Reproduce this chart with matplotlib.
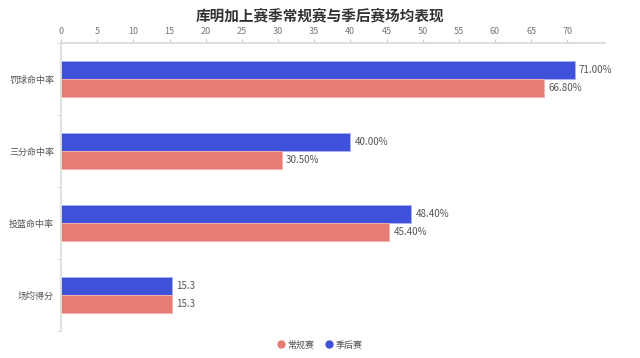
import matplotlib
matplotlib.use("Agg")
import matplotlib.pyplot as plt
import numpy as np
from matplotlib.lines import Line2D

plt.rcParams['font.family'] = ['Noto Sans CJK SC', 'DejaVu Sans']

categories = ['罚球命中率', '三分命中率', '投篮命中率', '场均得分']
regular = [66.8, 30.5, 45.4, 15.3]
playoff = [71.0, 40.0, 48.4, 15.3]
regular_labels = ['66.80%', '30.50%', '45.40%', '15.3']
playoff_labels = ['71.00%', '40.00%', '48.40%', '15.3']
series_names = ['常规赛', '季后赛']
xticks = list(range(0, 75, 5))

c_reg = '#e67c73'
c_po = '#3f51d9'

fig = plt.figure(figsize=(6.4, 3.58), dpi=100)
ax = fig.add_axes([61/640, 1-331/358, (605-61)/640, (331-43)/358])

y = np.arange(len(categories))
h = 0.25
b1 = ax.barh(y - h/2, playoff, height=h, color=c_po, edgecolor='#aab3f0', linewidth=0.6, label=series_names[1])
b2 = ax.barh(y + h/2, regular, height=h, color=c_reg, edgecolor='#f3b3ad', linewidth=0.6, label=series_names[0])

for rect, lab in zip(b1, playoff_labels):
    ax.text(rect.get_width() + 0.6, rect.get_y() + rect.get_height()/2, lab,
            va='center', ha='left', fontsize=7, color='#555555')
for rect, lab in zip(b2, regular_labels):
    ax.text(rect.get_width() + 0.6, rect.get_y() + rect.get_height()/2, lab,
            va='center', ha='left', fontsize=7, color='#555555')

ax.set_ylim(len(categories) - 0.5, -0.5)
ax.set_xlim(0, 75.2)
ax.xaxis.tick_top()
ax.set_xticks(xticks)
ax.tick_params(axis='x', length=3, width=0.8, color='#cccccc', labelsize=6.5, labelcolor='#777777', pad=2)
ax.set_yticks(y)
ax.set_yticklabels(categories)
ax.tick_params(axis='y', length=0, labelsize=6.5, labelcolor='#555555', pad=5)
ax.set_yticks(np.arange(-0.5, len(categories) + 0.5, 1), minor=True)
ax.tick_params(axis='y', which='minor', length=3, width=0.8, color='#dddddd')

for s in ['right', 'bottom']:
    ax.spines[s].set_visible(False)
ax.spines['top'].set_color('#dddddd')
ax.spines['top'].set_linewidth(1.5)
ax.spines['left'].set_color('#dddddd')
ax.spines['left'].set_linewidth(1.2)

fig.text(0.5, 1-15/358, '库明加上赛季常规赛与季后赛场均表现', ha='center', va='center',
         fontsize=10.5, fontweight='bold', color='#333333')

handles = [Line2D([], [], marker='o', linestyle='None', markersize=5, color=c_reg),
           Line2D([], [], marker='o', linestyle='None', markersize=5, color=c_po)]
fig.legend(handles, series_names, loc='center', bbox_to_anchor=(0.5, 1-345/358), ncol=2,
           frameon=False, fontsize=6.5, handlelength=0.8, handletextpad=0.3,
           columnspacing=1.2, labelcolor='#555555')

fig.savefig('out.png', dpi=100)
